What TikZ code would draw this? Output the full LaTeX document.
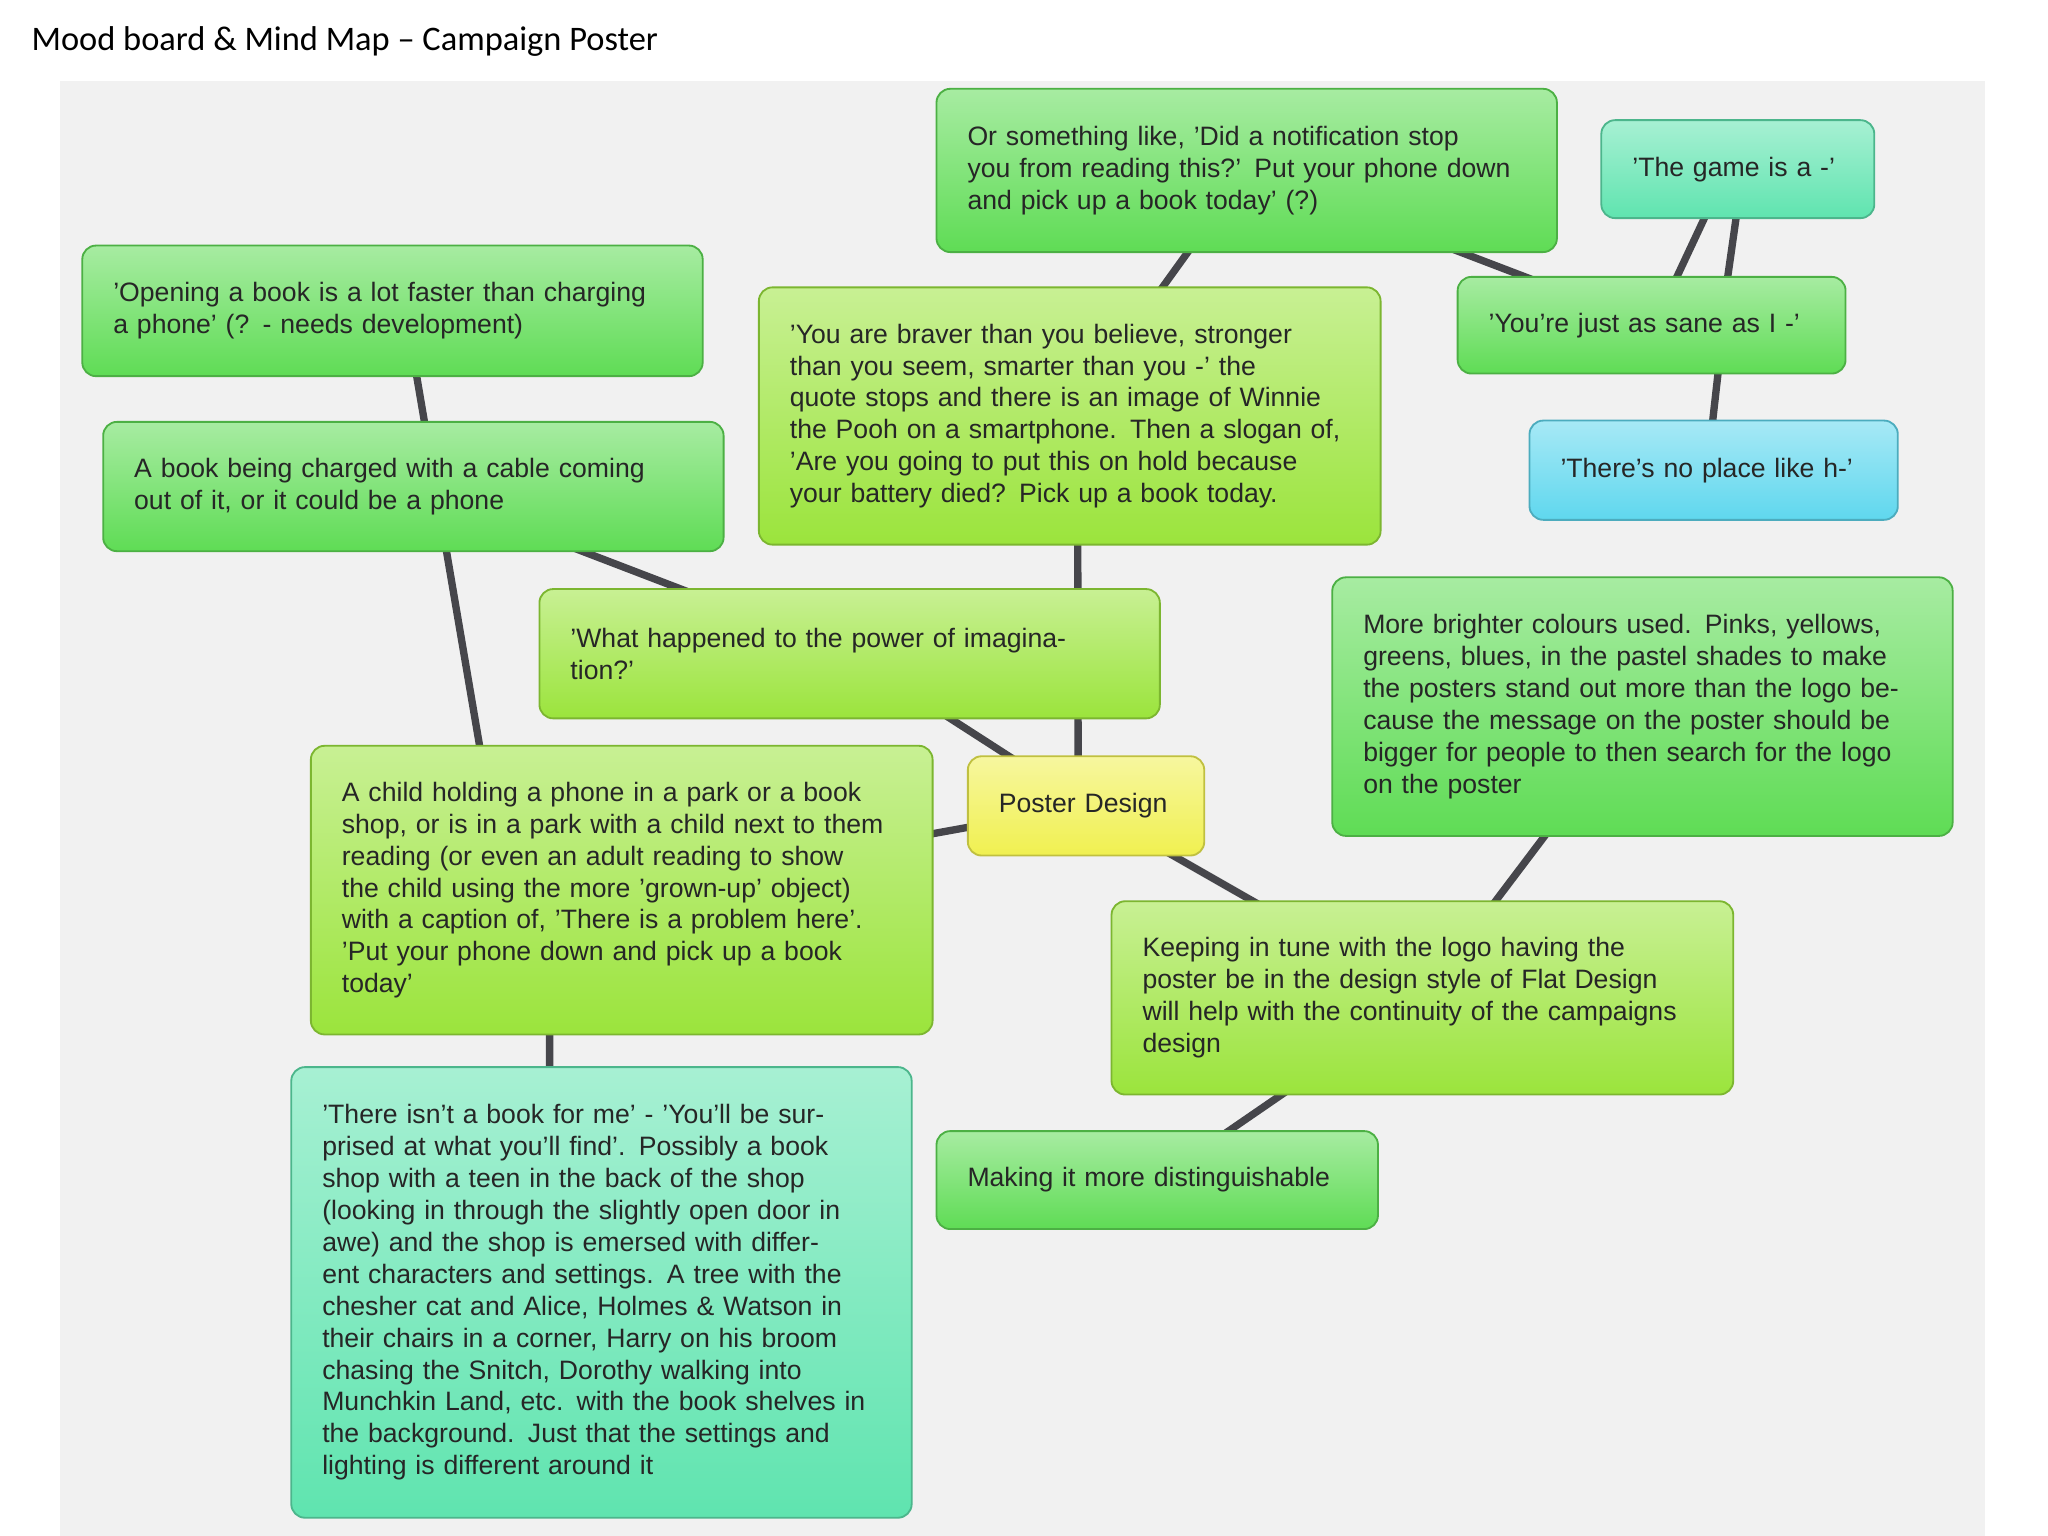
\documentclass[tikz,border=0pt]{standalone}
\usepackage{fontspec}
\setmainfont{Liberation Sans}
\newfontfamily\titlefont{Carlito}
\usetikzlibrary{calc}
\definecolor{cG}{RGB}{95,220,85}
\definecolor{cY}{RGB}{155,228,60}
\definecolor{cT}{RGB}{95,228,175}
\definecolor{cC}{RGB}{95,215,238}
\definecolor{cL}{RGB}{240,240,80}
\definecolor{lnk}{RGB}{70,70,75}
\definecolor{bgp}{RGB}{241,241,241}
\pgfdeclarelayer{back}\pgfdeclarelayer{bg}\pgfsetlayers{back,bg,main}
\tikzset{
 box/.style={rectangle,rounded corners=6pt,draw=#1!80!black,line width=0.8pt,top color=#1!55!white,bottom color=#1,inner sep=0pt,align=left,font=\fontsize{11.6}{13.9}\selectfont,text=black!85},
 conn/.style={draw=lnk,line width=3.2pt}
}
\newcommand\bx[7]{%
 \pgfmathsetmacro\bW{(#4-#2)*0.02}\pgfmathsetmacro\bH{(#5-#3)*0.02}\pgfmathsetmacro\bT{(#4-#2)*0.02-0.95}%
 \node[box=#6,minimum width=\bW cm,minimum height=\bH cm,text width=\bT cm] (#1) at ({(#2+#4)/2},{(#3+#5)/2}) {#7};}
\begin{document}
\begin{tikzpicture}[x=0.02cm,y=-0.02cm]
\useasboundingbox (0,0) rectangle (1568,1176);
\begin{pgfonlayer}{back}
\fill[bgp] (46,62) rectangle (1520,1176);
\end{pgfonlayer}
\node[anchor=west,font=\titlefont\fontsize{15}{17}\selectfont] (title) at (18,32) {Mood board \& Mind Map – Campaign Poster};
\bx{notif}{717}{68}{1192}{193}{cG}{Or something like, 'Did a notification stop\\ you from reading this?' Put your phone down\\ and pick up a book today' (?)}
\bx{game}{1226}{92}{1435}{167}{cT}{'The game is a -'}
\bx{opening}{63}{188}{538}{288}{cG}{'Opening a book is a lot faster than charging\\ a phone' (? - needs development)}
\bx{sane}{1116}{212}{1413}{286}{cG}{'You're just as sane as I -'}
\bx{braver}{581}{220}{1057}{417}{cY}{'You are braver than you believe, stronger\\ than you seem, smarter than you -' the\\ quote stops and there is an image of Winnie\\ the Pooh on a smartphone. Then a slogan of,\\ 'Are you going to put this on hold because\\ your battery died? Pick up a book today.}
\bx{noplace}{1171}{322}{1453}{398}{cC}{'There's no place like h-'}
\bx{charged}{79}{323}{554}{422}{cG}{A book being charged with a cable coming\\ out of it, or it could be a phone}
\bx{brighter}{1020}{442}{1495}{640}{cG}{More brighter colours used. Pinks, yellows,\\ greens, blues, in the pastel shades to make\\ the posters stand out more than the logo be-\\ cause the message on the poster should be\\ bigger for people to then search for the logo\\ on the poster}
\bx{what}{413}{451}{888}{550}{cY}{'What happened to the power of imagina-\\ tion?'}
\bx{poster}{741}{579}{922}{655}{cL}{Poster Design}
\bx{child}{238}{571}{714}{792}{cY}{A child holding a phone in a park or a book\\ shop, or is in a park with a child next to them\\ reading (or even an adult reading to show\\ the child using the more 'grown-up' object)\\ with a caption of, 'There is a problem here'.\\ 'Put your phone down and pick up a book\\ today'}
\bx{keeping}{851}{690}{1327}{838}{cY}{Keeping in tune with the logo having the\\ poster be in the design style of Flat Design\\ will help with the continuity of the campaigns\\ design}
\bx{disting}{717}{866}{1055}{941}{cG}{Making it more distinguishable}
\bx{nobook}{223}{817}{698}{1162}{cT}{'There isn't a book for me' - 'You'll be sur-\\ prised at what you'll find'. Possibly a book\\ shop with a teen in the back of the shop\\ (looking in through the slightly open door in\\ awe) and the shop is emersed with differ-\\ ent characters and settings. A tree with the\\ chesher cat and Alice, Holmes \& Watson in\\ their chairs in a corner, Harry on his broom\\ chasing the Snitch, Dorothy walking into\\ Munchkin Land, etc. with the book shelves in\\ the background. Just that the settings and\\ lighting is different around it}
\begin{pgfonlayer}{bg}
\draw[conn] ($(poster.center)+(-6,0)$) -- ($(braver.center)+(6,0)$);
\draw[conn] (poster.center) -- (what.center);
\draw[conn] (poster.center) -- (child.center);
\draw[conn] (poster.center) -- (keeping.center);
\draw[conn] (keeping.center) -- (brighter.center);
\draw[conn] (keeping.center) -- (disting.center);
\draw[conn] (notif.center) -- (braver.center);
\draw[conn] (notif.center) -- (sane.center);
\draw[conn] ($(sane.center)+(2,0)$) -- ($(game.center)+(-8,0)$);
\draw[conn] ($(sane.center)+(53,0)$) -- ($(game.center)+(4,0)$);
\draw[conn] ($(sane.center)+(55,0)$) -- ($(noplace.center)+(-5,0)$);
\draw[conn] ($(opening.center)+(10,0)$) -- ($(child.center)+(-90,0)$);
\draw[conn] (charged.center) -- (what.center);
\draw[conn] ($(child.center)+(-55,0)$) -- ($(nobook.center)+(-40,0)$);
\end{pgfonlayer}
\end{tikzpicture}
\end{document}
